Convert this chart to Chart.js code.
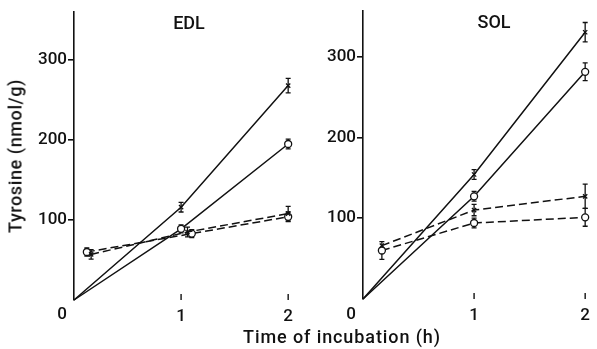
<!DOCTYPE html>
<html lang="en">
<head>
  <meta charset="UTF-8" />
  <title>Tyrosine – EDL / SOL</title>
  <script src="https://cdn.jsdelivr.net/npm/chart.js"></script>
  <style>
    body { margin: 0; background: #fff; font-family: Roboto, "Liberation Sans", Arial, sans-serif; }
    .wrap { position: relative; width: 597px; height: 349px; overflow: hidden; }
    canvas { position: absolute; top: 0; }
    .lbl { position: absolute; color: #111; font-size: 18px; font-weight: 500; white-space: nowrap; transform: translate(-50%, -50%); }
    .ytitle { transform: translate(-50%, -50%) rotate(-90deg); }
  </style>
</head>
<body>
<div class="wrap">
  <canvas id="chart-edl" width="300" height="349" style="left:0"></canvas>
  <canvas id="chart-sol" width="297" height="349" style="left:300px"></canvas>
  <div class="lbl" style="left:189px; top:22px;">EDL</div>
  <div class="lbl" style="left:494px; top:21px;">SOL</div>
  <div class="lbl ytitle" style="left:15px; top:156px; letter-spacing:0.6px;">Tyrosine (nmol/g)</div>
  <div class="lbl" style="left:342px; top:336px; letter-spacing:0.9px;">Time of incubation (h)</div>
</div>

<script>
  // ticks
  const xTicks = [1, 2];
  const yTicks = [100, 200, 300];

  // EDL
  const edlSolidX = [0, 1, 2];
  const edlCrossSolid = [0, 116, 268];
  const edlCrossSolidErr = [0, 6, 9];
  const edlCircleSolid = [0, 89, 195];
  const edlCircleSolidErr = [0, 5, 6];
  const edlCrossDashedX = [0.16, 1.06, 2];
  const edlCrossDashed = [57, 85, 108];
  const edlCrossDashedErr = [6, 6, 9];
  const edlCircleDashedX = [0.12, 1.1, 2];
  const edlCircleDashed = [60, 83, 104];
  const edlCircleDashedErr = [5, 5, 6];

  // SOL
  const solSolidX = [0, 1, 2];
  const solCrossSolid = [0, 154, 330];
  const solCrossSolidErr = [0, 6, 12];
  const solCircleSolid = [0, 127, 281];
  const solCircleSolidErr = [0, 6, 11];
  const solDashedX = [0.17, 1, 2];
  const solCrossDashed = [66, 110, 127];
  const solCrossDashedErr = [0, 7, 15];
  const solCircleDashed = [60, 94, 101];
  const solCircleDashedErr = [11, 6, 11];

  const tickFont = { family: 'Roboto, "Liberation Sans", Arial, sans-serif', size: 17, weight: 500 };

  function series(xs, ys, errs, marker, dashed) {
    return {
      data: xs.map((x, i) => ({ x: x, y: ys[i] })),
      errors: errs,
      borderColor: '#111',
      borderWidth: 1.5,
      borderDash: dashed ? [8, 4] : [],
      pointStyle: marker,
      pointRadius: xs.map((x, i) => (x === 0 && ys[i] === 0) ? 0 : (marker === 'circle' ? 3.5 : 3)),
      pointBorderColor: '#111',
      pointBackgroundColor: '#fff',
      pointBorderWidth: 1.3,
      fill: false,
      tension: 0,
      clip: false
    };
  }

  // error bars + inward x ticks + the "0" at the origin
  const extras = {
    id: 'extras',
    beforeDatasetsDraw(chart) {
      const { ctx, scales: { x, y } } = chart;
      ctx.save();
      ctx.strokeStyle = '#111';
      ctx.lineWidth = 1.3;
      chart.data.datasets.forEach(ds => {
        ds.data.forEach((p, j) => {
          const e = ds.errors[j];
          if (!e) return;
          const px = x.getPixelForValue(p.x);
          const t = y.getPixelForValue(p.y + e);
          const b = y.getPixelForValue(p.y - e);
          ctx.beginPath();
          ctx.moveTo(px, t); ctx.lineTo(px, b);
          ctx.moveTo(px - 2.5, t); ctx.lineTo(px + 2.5, t);
          ctx.moveTo(px - 2.5, b); ctx.lineTo(px + 2.5, b);
          ctx.stroke();
        });
      });
      ctx.restore();
    },
    afterDraw(chart) {
      const { ctx, scales: { x }, chartArea } = chart;
      ctx.save();
      ctx.strokeStyle = '#111';
      ctx.lineWidth = 1.4;
      xTicks.forEach(t => {
        const px = x.getPixelForValue(t);
        ctx.beginPath();
        ctx.moveTo(px, chartArea.bottom);
        ctx.lineTo(px, chartArea.bottom - 6);
        ctx.stroke();
      });
      ctx.fillStyle = '#111';
      ctx.font = '500 17px Roboto, "Liberation Sans", Arial, sans-serif';
      ctx.textAlign = 'center';
      ctx.textBaseline = 'middle';
      ctx.fillText('0', x.getPixelForValue(0) - 12, 315);
      ctx.restore();
    }
  };

  function makeChart(id, datasets, yMax, yWidth, padTop, padRight, xHeight) {
    return new Chart(document.getElementById(id), {
      type: 'line',
      data: { datasets: datasets },
      options: {
        responsive: false,
        animation: false,
        layout: { padding: { left: 0, top: padTop, right: padRight, bottom: 0 } },
        plugins: { legend: { display: false }, tooltip: { enabled: false } },
        scales: {
          x: {
            type: 'linear',
            min: 0,
            max: 2,
            afterBuildTicks: s => { s.ticks = xTicks.map(v => ({ value: v })); },
            afterFit: s => { s.height = xHeight; },
            grid: { display: false, drawTicks: false },
            border: { display: false },
            ticks: { color: '#111', font: tickFont, padding: 7, maxRotation: 0 }
          },
          y: {
            type: 'linear',
            min: 0,
            max: yMax,
            afterBuildTicks: s => { s.ticks = yTicks.map(v => ({ value: v })); },
            afterFit: s => { s.width = yWidth; },
            grid: { drawOnChartArea: false, drawTicks: true, tickLength: 6, color: '#111', lineWidth: 1.6 },
            border: { display: true, color: '#111', width: 1.6 },
            ticks: { color: '#111', font: tickFont, padding: 1 }
          }
        }
      },
      plugins: [extras]
    });
  }

  makeChart('chart-edl', [
    series(edlSolidX, edlCrossSolid, edlCrossSolidErr, 'crossRot', false),
    series(edlSolidX, edlCircleSolid, edlCircleSolidErr, 'circle', false),
    series(edlCrossDashedX, edlCrossDashed, edlCrossDashedErr, 'crossRot', true),
    series(edlCircleDashedX, edlCircleDashed, edlCircleDashedErr, 'circle', true)
  ], 360, 74, 12, 4, 49);

  makeChart('chart-sol', [
    series(solSolidX, solCrossSolid, solCrossSolidErr, 'crossRot', false),
    series(solSolidX, solCircleSolid, solCircleSolidErr, 'circle', false),
    series(solDashedX, solCrossDashed, solCrossDashedErr, 'crossRot', true),
    series(solDashedX, solCircleDashed, solCircleDashedErr, 'circle', true)
  ], 356, 63, 11, 6, 50);
</script>
</body>
</html>
